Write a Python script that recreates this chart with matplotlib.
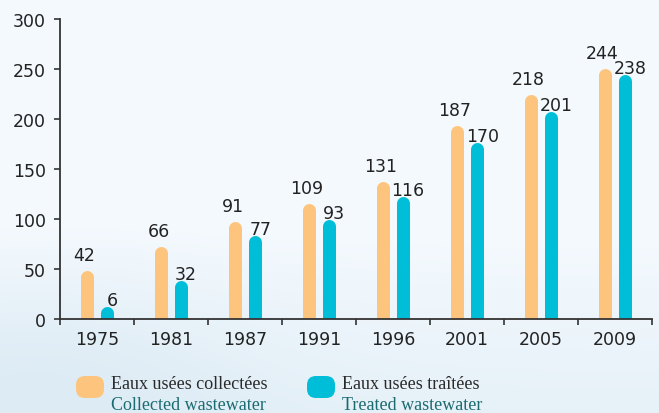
import numpy as np
import matplotlib
matplotlib.use("Agg")
import matplotlib.pyplot as plt
from matplotlib.patches import FancyBboxPatch
from matplotlib.colors import to_rgb

years = ["1975", "1981", "1987", "1991", "1996", "2001", "2005", "2009"]
collected = [42, 66, 91, 109, 131, 187, 218, 244]
treated = [6, 32, 77, 93, 116, 170, 201, 238]

orange = "#fdc47d"
cyan = "#00bdd8"
dark = "#222222"

fig = plt.figure(figsize=(6.59, 4.14), dpi=100)

# pale sky background
bg = fig.add_axes([0, 0, 1, 1], zorder=-10)
h, w = 207, 330
yy, xx = np.mgrid[0:1:h * 1j, 0:1:w * 1j]
top = np.array(to_rgb("#f5fafe"))
low = np.array(to_rgb("#e6f1f8"))
cloud = np.array(to_rgb("#d6e7f2"))
t = np.clip((yy - 0.55) / 0.45, 0, 1)[..., None]
img = top * (1 - t) + low * t
c = np.exp(-(((xx - 0.05) / 0.35) ** 2 + ((yy - 0.95) / 0.25) ** 2))[..., None] * 0.6
img = img * (1 - c) + cloud * c
bg.imshow(img, aspect="auto", extent=[0, 1, 0, 1], origin="upper")
bg.axis("off")

ax = fig.add_axes([60 / 659, 94 / 414, 592 / 659, 300 / 414])
ax.patch.set_alpha(0)

x = np.arange(len(years))
off = 0.13
lw = 13 * 72 / 100
ax.vlines(x - off, 0, collected, colors=orange, lw=lw, capstyle="round")
ax.vlines(x + off, 0, treated, colors=cyan, lw=lw, capstyle="round")

for xi, v in zip(x, collected):
    ax.annotate(str(v), (xi - off, v), xytext=(-2, 12), textcoords="offset points",
                ha="center", va="baseline", fontsize=12.5, color=dark)
for xi, v in zip(x, treated):
    ax.annotate(str(v), (xi + off, v), xytext=(4, 6), textcoords="offset points",
                ha="center", va="baseline", fontsize=12.5, color=dark)

ax.set_xlim(-0.5, len(years) - 0.5)
ax.set_ylim(0, 300)
ax.set_yticks(range(0, 301, 50))
ax.set_xticks(x)
ax.set_xticklabels(years)
ax.set_xticks(np.arange(-0.5, len(years), 1), minor=True)
ax.tick_params(axis="x", which="major", length=0, pad=8, labelsize=12.5, labelcolor=dark)
ax.tick_params(axis="x", which="minor", length=4, width=1.2, color="#333333", direction="out")
ax.tick_params(axis="y", length=4, width=1.2, color="#333333", pad=6, labelsize=12.5, labelcolor=dark)

for s in ["top", "right"]:
    ax.spines[s].set_visible(False)
for s in ["left", "bottom"]:
    ax.spines[s].set_color("#333333")
    ax.spines[s].set_linewidth(1.3)

# legend
for x0, col, fr, en in [(0.76, orange, "Eaux usées collectées", "Collected wastewater"),
                        (3.07, cyan, "Eaux usées traîtées", "Treated wastewater")]:
    p = FancyBboxPatch((x0, 0.15), 0.28, 0.22,
                       boxstyle="round,pad=0,rounding_size=0.09",
                       transform=fig.dpi_scale_trans, fc=col, ec="none")
    fig.patches.append(p)
    fig.text(x0 + 0.35, 0.25, fr, transform=fig.dpi_scale_trans,
             family="Liberation Serif", fontsize=13, color="#2a2a2a", va="baseline")
    fig.text(x0 + 0.35, 0.04, en, transform=fig.dpi_scale_trans,
             family="Liberation Serif", fontsize=13, color="#1b6b70", va="baseline")

fig.savefig("out.png", dpi=100)
